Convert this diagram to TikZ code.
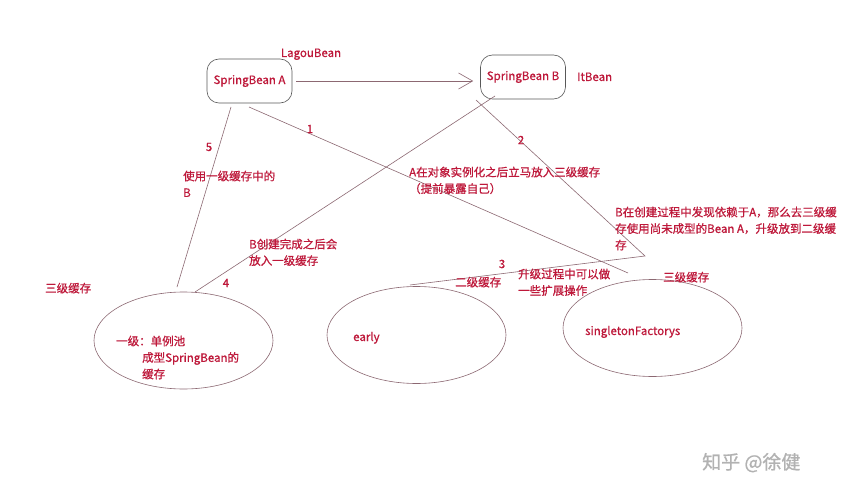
\documentclass[tikz,border=0pt]{standalone}
\usepackage{fontspec}
\setmainfont{Noto Sans CJK SC}[RawFeature={embolden=0.8}]
\usepackage{tikz}
\usetikzlibrary{arrows.meta,shapes.geometric}

\definecolor{txtred}{RGB}{190,24,58}
\definecolor{edgecol}{RGB}{140,104,114}
\definecolor{boxcol}{RGB}{88,88,88}

\tikzset{
  beanbox/.style={draw=boxcol,line width=0.6pt,rounded corners=12pt,minimum width=85pt,minimum height=44pt,inner sep=0pt,text=txtred},
  cache/.style={draw=edgecol,line width=0.6pt,ellipse,minimum width=179pt,minimum height=97pt,inner sep=0pt},
  link/.style={draw=edgecol,line width=0.6pt},
  lbl/.style={text=txtred,inner sep=0pt,align=left,anchor=north west},
  num/.style={text=txtred,inner sep=0pt}
}

\begin{document}
\begin{tikzpicture}[x=1pt,y=-1pt,font=\fontsize{11.5}{16.5}\selectfont]
\useasboundingbox[fill=white] (0,0) rectangle (859,500);

\node[beanbox] (a) at (249.5,81) {SpringBean A};
\node[beanbox] (b) at (523,77) {SpringBean B};

\node[cache] (l1) at (183.5,340.5) {};
\node[cache] (l2) at (416.5,335) {};
\node[cache] (l3) at (652.5,328) {};

\coordinate (a5) at (231,107);
\coordinate (a1) at (249,107);
\coordinate (b4) at (495,96);
\coordinate (b2) at (476,100);
\coordinate (e5) at (177,287);
\coordinate (e1) at (628,273);
\coordinate (e4) at (195,292);
\coordinate (k2) at (645,256);
\coordinate (e3) at (410,285);

\draw[link,-{Straight Barb[length=14pt,width=16pt]},shorten <=4pt,shorten >=7pt] (a.east) -- (a.east -| b.west);
\draw[link] (a5) -- (e5);
\draw[link] (a1) -- (e1);
\draw[link] (b4) -- (e4);
\draw[link] (b2) -- (k2) -- (e3);

\node[num] (n1) at (310,129) {1};
\node[num] (n2) at (521,140) {2};
\node[num] (n3) at (502,264) {3};
\node[num] (n4) at (226,283) {4};
\node[num] (n5) at (209,147) {5};

\node[text=txtred,inner sep=0pt,anchor=base] (lagou) at (311,57) {LagouBean};
\node[text=txtred,inner sep=0pt,anchor=base west] (itbean) at (577,81) {ItBean};

\node[lbl] (use1) at (183,170.5) {使用一级缓存中的\\B};
\node[lbl] (put3) at (409,166.5) {A在对象实例化之后立马放入三级缓存\\（提前暴露自己）};
\node[lbl] (put1) at (249,238.5) {B创建完成之后会\\放入一级缓存};
\node[lbl] (dep) at (615,206.5) {B在创建过程中发现依赖于A，那么去三级缓\\存使用尚未成型的Bean A，升级放到二级缓\\存};
\node[lbl] (up) at (518,268.5) {升级过程中可以做\\一些扩展操作};

\node[text=txtred,inner sep=0pt,anchor=base west] (t2) at (455,286.5) {二级缓存};
\node[text=txtred,inner sep=0pt,anchor=base west] (t3r) at (663,281.5) {三级缓存};
\node[text=txtred,inner sep=0pt,anchor=base west] (t3l) at (45,292.5) {三级缓存};

\node[lbl] (pool) at (116,335.5) {一级：单例池\\\hspace*{26pt}成型SpringBean的\\\hspace*{26pt}缓存};
\node[text=txtred,inner sep=0pt,anchor=base west] (early) at (353,341) {early};
\node[text=txtred,inner sep=0pt,anchor=base west] (sf) at (585,335) {singletonFactorys};

\node[text=black!30,inner sep=0pt,anchor=base west,font=\fontsize{19}{19}\selectfont] (mark) at (702,469) {知乎 @徐健};
\end{tikzpicture}
\end{document}
